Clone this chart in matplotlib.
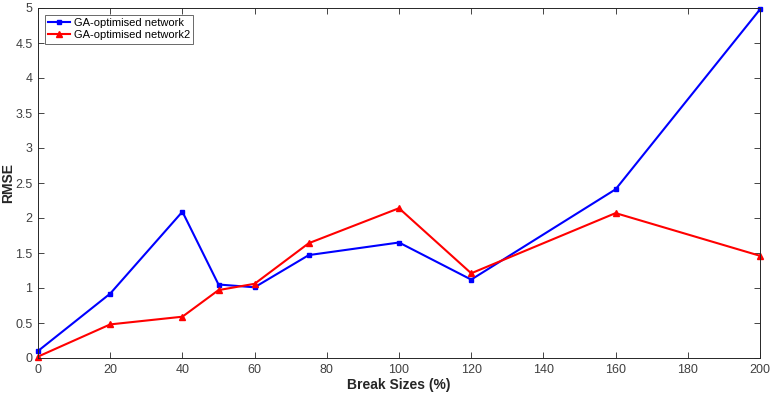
import matplotlib
matplotlib.use('Agg')
import matplotlib.pyplot as plt

# Datos
break_sizes = [0, 20, 40, 50, 60, 75, 100, 120, 160, 200]
rmse_ga = [0.10, 0.92, 2.09, 1.05, 1.01, 1.47, 1.65, 1.12, 2.41, 4.98]
rmse_ga2 = [0.02, 0.48, 0.59, 0.97, 1.06, 1.64, 2.14, 1.21, 2.07, 1.46]

xticks = [0, 20, 40, 60, 80, 100, 120, 140, 160, 180, 200]
yticks = [0, 0.5, 1, 1.5, 2, 2.5, 3, 3.5, 4, 4.5, 5]

plt.rcParams['font.family'] = ['Liberation Sans', 'DejaVu Sans']

fig = plt.figure(figsize=(7.71, 3.96), dpi=100)
ax = fig.add_axes([38 / 771, 38 / 396, 722 / 771, 350 / 396])

ax.plot(break_sizes, rmse_ga, marker='s', markersize=3.5, color='#0000ff',
        linewidth=1.5, label='GA-optimised network', clip_on=False)
ax.plot(break_sizes, rmse_ga2, marker='^', markersize=4.5, color='#ff0000',
        linewidth=1.5, label='GA-optimised network2', clip_on=False)

ax.set_xlim(0, 200)
ax.set_ylim(0, 5)
ax.set_xticks(xticks)
ax.set_yticks(yticks)
ax.set_yticklabels([f'{t:g}' for t in yticks])
ax.tick_params(direction='in', top=True, right=True, labelsize=9,
               colors='#262626', labelcolor='#404040', length=4, width=0.6, pad=4)
for s in ax.spines.values():
    s.set_color('#262626')
    s.set_linewidth(0.7)

ax.set_xlabel('Break Sizes (%)', fontsize=10, fontweight='bold', labelpad=2,
              color='#262626')
ax.set_ylabel('RMSE', fontsize=10, fontweight='bold', color='#262626')
ax.yaxis.set_label_coords(-0.031, 0.5)

leg = ax.legend(loc='upper left', fontsize=8, frameon=True, fancybox=False,
                edgecolor='#262626', borderaxespad=0.6, handlelength=2.0,
                borderpad=0.3, labelspacing=0.2, handletextpad=0.3)
leg.get_frame().set_linewidth(0.6)

fig.savefig('out.png', dpi=100)
